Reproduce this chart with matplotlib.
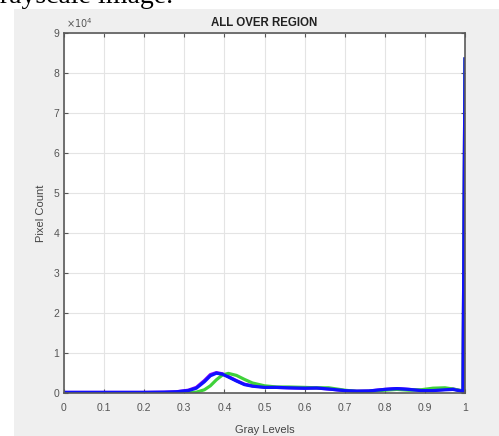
import matplotlib
matplotlib.use("Agg")
import matplotlib.pyplot as plt
from matplotlib.patches import Rectangle

# Histogram (gray level -> pixel count)
gray_levels = [0, 0.05, 0.1, 0.15, 0.2, 0.25, 0.28, 0.31, 0.33, 0.35, 0.365, 0.38,
               0.395, 0.41, 0.43, 0.45, 0.47, 0.5, 0.53, 0.56, 0.6, 0.63, 0.66, 0.7,
               0.73, 0.76, 0.8, 0.83, 0.86, 0.89, 0.92, 0.95, 0.97, 0.99, 0.995, 1.0]
red_counts = [150, 150, 150, 150, 150, 200, 300, 700, 1400, 3100, 4600, 5100,
              4800, 4100, 3100, 2200, 1800, 1500, 1400, 1300, 1200, 1250, 1000, 600,
              450, 500, 900, 1100, 900, 700, 700, 900, 1000, 600, 500, 83500]
green_counts = [100, 100, 100, 100, 100, 100, 100, 100, 200, 800, 1800, 3300,
                4500, 4900, 4400, 3400, 2500, 1800, 1500, 1500, 1400, 1300, 1300, 700,
                400, 400, 700, 900, 700, 800, 1200, 1300, 1000, 600, 500, 83500]
blue_counts = [150, 150, 150, 150, 150, 200, 300, 600, 1200, 2800, 4300, 4950,
               4700, 4000, 3000, 2100, 1700, 1400, 1400, 1300, 1200, 1250, 1000, 600,
               450, 500, 900, 1100, 900, 600, 600, 800, 900, 500, 400, 83500]

x_ticks = [0, 0.1, 0.2, 0.3, 0.4, 0.5, 0.6, 0.7, 0.8, 0.9, 1]
x_tick_labels = ["0", "0.1", "0.2", "0.3", "0.4", "0.5", "0.6", "0.7", "0.8", "0.9", "1"]
y_ticks = [0, 1, 2, 3, 4, 5, 6, 7, 8, 9]

plt.rcParams["font.family"] = ["Liberation Sans", "DejaVu Sans"]

fig = plt.figure(figsize=(4.99, 4.36), dpi=100)
fig.patch.set_facecolor("white")
# grey MATLAB figure area
fig.patches.append(Rectangle((14 / 499, 0), 1, 1 - 9 / 436, transform=fig.transFigure,
                             facecolor="#efefef", edgecolor="none", zorder=-10))
# cropped caption from the page above
fig.text(-14 / 499, 1 - 3 / 436, "grayscale image.", fontsize=20,
         family="Liberation Serif", va="baseline", ha="left", color="black")

ax = fig.add_axes([64 / 499, 1 - 393 / 436, 401 / 499, 360 / 436])
ax.set_zorder(1)
ax.set_facecolor("white")

scale = 1e4
ax.plot(gray_levels, [v / scale for v in red_counts], color="#8000ff", lw=2.3)
ax.plot(gray_levels, [v / scale for v in green_counts], color="#3fd13a", lw=2.3)
ax.plot(gray_levels, [v / scale for v in blue_counts], color="#1010ff", lw=2.3)

ax.set_xlim(0, 1)
ax.set_ylim(0, 9)
ax.set_xticks(x_ticks)
ax.set_xticklabels(x_tick_labels)
ax.set_yticks(y_ticks)
ax.grid(True, color="#e4e4e4", lw=0.8)
ax.tick_params(direction="in", top=True, right=True, length=3, width=0.8,
               colors="#555555", labelsize=7.5, labelcolor="#555555")
ax.tick_params(axis="x", pad=7)
for s in ax.spines.values():
    s.set_color("#5a5a5a")
    s.set_linewidth(1.2)

ax.text(0.005, 1.008, r"$\times10^4$", transform=ax.transAxes, fontsize=7,
        color="#555555", ha="left", va="bottom")
ax.set_title("ALL OVER REGION", fontsize=8.3, fontweight="bold", color="#222222", pad=5)
ax.set_xlabel("Gray Levels", fontsize=8, color="#444444", labelpad=9)
ax.set_ylabel("Pixel Count", fontsize=8, color="#444444", labelpad=5)

fig.savefig("out.png", dpi=100)
